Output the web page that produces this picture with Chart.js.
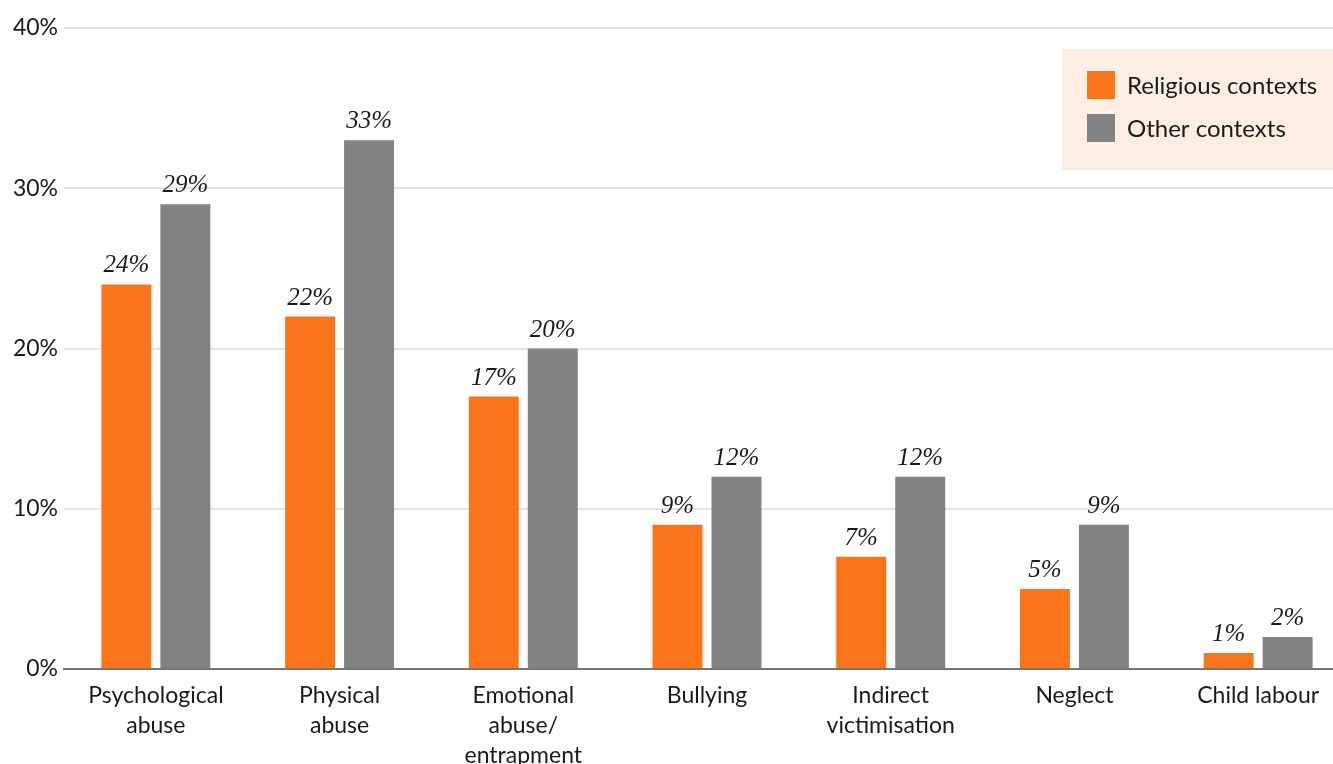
<!DOCTYPE html>
<html>
<head>
<meta charset="utf-8">
<script src="https://cdn.jsdelivr.net/npm/chart.js@4.4.1/dist/chart.umd.min.js"></script>
<style>
  html, body { margin: 0; padding: 0; background: #fff; overflow: hidden; }
  #wrap { position: absolute; left: 0; top: 0; width: 1350px; height: 764px; }
</style>
</head>
<body>
<div id="wrap"><canvas id="chart" width="1350" height="764"></canvas></div>
<script>
const categories = [
  ["Psychological", "abuse"],
  ["Physical", "abuse"],
  ["Emotional", "abuse/", "entrapment"],
  "Bullying",
  ["Indirect", "victimisation"],
  "Neglect",
  "Child labour"
];
const religious = [24, 22, 17, 9, 7, 5, 1];
const other = [29, 33, 20, 12, 12, 9, 2];
const seriesNames = ["Religious contexts", "Other contexts"];
const yTicks = [0, 10, 20, 30, 40];

const orange = "#fa741a";
const grey = "#808283";

// value labels above each bar, italic serif like the original
const barLabels = {
  id: "barLabels",
  afterDatasetsDraw(chart) {
    const ctx = chart.ctx;
    ctx.save();
    ctx.font = "italic 25px 'Liberation Serif'";
    ctx.fillStyle = "#1a1a1a";
    ctx.textAlign = "center";
    ctx.textBaseline = "bottom";
    chart.data.datasets.forEach((ds, i) => {
      chart.getDatasetMeta(i).data.forEach((bar, j) => {
        ctx.fillText(ds.data[j] + "%", bar.x, bar.y - 6);
      });
    });
    ctx.restore();
  }
};

// boxed legend in the top right corner
const boxLegend = {
  id: "boxLegend",
  afterDraw(chart) {
    const ctx = chart.ctx;
    ctx.save();
    ctx.fillStyle = "#fdeee4";
    ctx.fillRect(1062, 49, 300, 121);
    ctx.font = "24px Lato";
    ctx.textBaseline = "middle";
    chart.data.datasets.forEach((ds, i) => {
      const y = 71 + i * 43;
      ctx.fillStyle = ds.backgroundColor;
      ctx.fillRect(1087, y, 28, 28);
      ctx.fillStyle = "#1a1a1a";
      ctx.fillText(ds.label, 1127, y + 15);
    });
    ctx.restore();
  }
};

new Chart(document.getElementById("chart"), {
  type: "bar",
  data: {
    labels: categories,
    datasets: [
      { label: seriesNames[0], data: religious, backgroundColor: orange },
      { label: seriesNames[1], data: other, backgroundColor: grey }
    ]
  },
  options: {
    responsive: false,
    animation: false,
    devicePixelRatio: 1,
    categoryPercentage: 0.642,
    barPercentage: 0.847,
    layout: { padding: { top: 28, right: 0, left: 0, bottom: 0 } },
    plugins: {
      legend: { display: false },
      tooltip: { enabled: false }
    },
    scales: {
      x: {
        grid: { display: false, drawTicks: false },
        border: { display: true, color: "#777", width: 2 },
        ticks: {
          color: "#1a1a1a",
          font: { family: "Lato", size: 23, lineHeight: 1.3 },
          padding: 12,
          maxRotation: 0,
          autoSkip: false
        },
        afterFit(scale) { scale.height = 95; }
      },
      y: {
        min: 0,
        max: 40,
        afterBuildTicks(scale) { scale.ticks = yTicks.map(v => ({ value: v })); },
        grid: { color: "#e4e4e4", lineWidth: 2, drawTicks: false },
        border: { display: false },
        ticks: {
          color: "#1a1a1a",
          font: { family: "Lato", size: 23 },
          padding: 6,
          callback: v => v + "%"
        },
        afterFit(scale) { scale.width = 64; }
      }
    }
  },
  plugins: [barLabels, boxLegend]
});
</script>
</body>
</html>
